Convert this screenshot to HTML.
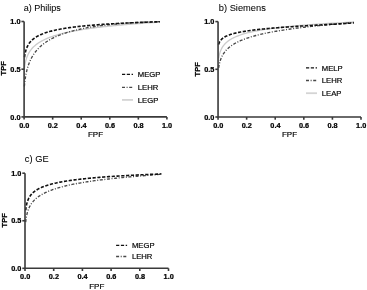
<!DOCTYPE html>
<html><head><meta charset="utf-8"><style>
html,body{margin:0;padding:0;background:#fff;}
body{width:367px;height:290px;overflow:hidden;}
svg{display:block;will-change:transform;filter:blur(0.3px);}
text{font-family:"Liberation Sans",sans-serif;fill:#000;stroke:#000;stroke-width:0.18px;}
.tk{font-size:7.3px;font-weight:bold;stroke-width:0.24px;}
.at{font-size:8px;}
.atb{font-size:7.5px;font-weight:bold;stroke-width:0.25px;}
.ti{font-size:9.6px;stroke-width:0.05px;}
.lg{font-size:7.7px;}
</style></head><body>
<svg width="367" height="290" viewBox="0 0 367 290">
<rect width="367" height="290" fill="#fff"/>
<path d="M24.50,67.80 L24.51,67.78 L24.52,67.70 L24.53,67.57 L24.56,67.37 L24.59,67.10 L24.64,66.78 L24.69,66.40 L24.75,65.96 L24.83,65.48 L24.91,64.96 L25.01,64.40 L25.11,63.82 L25.23,63.22 L25.36,62.59 L25.50,61.96 L25.65,61.31 L25.81,60.66 L25.99,60.01 L26.18,59.36 L26.38,58.71 L26.59,58.06 L26.81,57.42 L27.05,56.78 L27.30,56.16 L27.56,55.54 L27.84,54.92 L28.13,54.32 L28.43,53.72 L28.74,53.14 L29.07,52.56 L29.41,52.00 L29.77,51.44 L30.14,50.89 L30.52,50.35 L30.91,49.82 L31.32,49.30 L31.75,48.79 L32.19,48.29 L32.64,47.80 L33.10,47.31 L33.58,46.83 L34.08,46.36 L34.59,45.90 L35.11,45.45 L35.65,45.01 L36.20,44.57 L36.76,44.14 L37.35,43.72 L37.94,43.30 L38.55,42.89 L39.18,42.49 L39.82,42.09 L40.47,41.70 L41.14,41.32 L41.83,40.94 L42.53,40.57 L43.25,40.21 L43.98,39.85 L44.72,39.49 L45.48,39.15 L46.26,38.80 L47.05,38.46 L47.86,38.13 L48.69,37.80 L49.52,37.48 L50.38,37.16 L51.25,36.85 L52.14,36.54 L53.04,36.23 L53.96,35.93 L54.89,35.64 L55.84,35.35 L56.80,35.06 L57.79,34.77 L58.78,34.49 L59.80,34.22 L60.83,33.95 L61.87,33.68 L62.93,33.41 L64.01,33.15 L65.11,32.89 L66.22,32.64 L67.34,32.39 L68.49,32.14 L69.65,31.90 L70.83,31.66 L72.02,31.42 L73.23,31.18 L74.46,30.95 L75.70,30.72 L76.96,30.50 L78.23,30.27 L79.53,30.05 L80.84,29.84 L82.16,29.62 L83.51,29.41 L84.87,29.20 L86.25,28.99 L87.64,28.79 L89.05,28.59 L90.48,28.39 L91.93,28.19 L93.39,28.00 L94.87,27.81 L96.37,27.62 L97.88,27.43 L99.41,27.24 L100.96,27.06 L102.53,26.88 L104.11,26.70 L105.71,26.52 L107.33,26.35 L108.97,26.18 L110.62,26.01 L112.29,25.84 L113.98,25.67 L115.68,25.51 L117.41,25.34 L119.15,25.18 L120.91,25.02 L122.68,24.86 L124.48,24.71 L126.29,24.55 L128.12,24.40 L129.96,24.25 L131.83,24.10 L133.71,23.95 L135.61,23.80 L137.53,23.66 L139.47,23.51 L141.42,23.37 L143.39,23.23 L145.38,23.09 L147.39,22.95 L149.42,22.81 L151.46,22.67 L153.53,22.53 L155.61,22.39 L157.71,22.24 L159.82,22.10" fill="none" stroke="#cbcbcb" stroke-width="1.3"/>
<path d="M24.36,86.42 L24.36,86.39 L24.37,86.28 L24.39,86.09 L24.42,85.80 L24.45,85.42 L24.49,84.96 L24.55,84.41 L24.61,83.78 L24.68,83.09 L24.77,82.33 L24.86,81.53 L24.97,80.68 L25.09,79.80 L25.22,78.88 L25.36,77.95 L25.51,77.00 L25.67,76.03 L25.85,75.06 L26.03,74.09 L26.23,73.11 L26.45,72.13 L26.67,71.16 L26.91,70.19 L27.16,69.23 L27.42,68.28 L27.70,67.34 L27.99,66.41 L28.29,65.49 L28.60,64.58 L28.93,63.68 L29.27,62.80 L29.63,61.92 L30.00,61.06 L30.38,60.22 L30.78,59.38 L31.19,58.56 L31.61,57.76 L32.05,56.96 L32.50,56.18 L32.97,55.41 L33.45,54.65 L33.94,53.91 L34.45,53.18 L34.98,52.46 L35.51,51.75 L36.07,51.06 L36.63,50.38 L37.22,49.71 L37.81,49.05 L38.42,48.40 L39.05,47.76 L39.69,47.14 L40.35,46.52 L41.02,45.92 L41.70,45.33 L42.41,44.74 L43.12,44.17 L43.85,43.61 L44.60,43.06 L45.36,42.52 L46.14,41.98 L46.93,41.46 L47.74,40.95 L48.57,40.44 L49.41,39.95 L50.26,39.46 L51.13,38.98 L52.02,38.51 L52.92,38.05 L53.84,37.60 L54.78,37.16 L55.73,36.72 L56.69,36.30 L57.68,35.88 L58.68,35.47 L59.69,35.06 L60.72,34.67 L61.77,34.28 L62.83,33.90 L63.91,33.53 L65.01,33.16 L66.12,32.80 L67.25,32.45 L68.39,32.10 L69.55,31.76 L70.73,31.43 L71.93,31.11 L73.14,30.79 L74.36,30.47 L75.61,30.17 L76.87,29.87 L78.15,29.58 L79.44,29.29 L80.75,29.01 L82.08,28.73 L83.43,28.46 L84.79,28.20 L86.17,27.94 L87.56,27.69 L88.98,27.44 L90.41,27.20 L91.85,26.96 L93.32,26.73 L94.80,26.51 L96.30,26.29 L97.81,26.08 L99.35,25.87 L100.90,25.66 L102.47,25.46 L104.05,25.27 L105.65,25.08 L107.27,24.90 L108.91,24.72 L110.57,24.54 L112.24,24.38 L113.93,24.21 L115.64,24.05 L117.36,23.90 L119.10,23.74 L120.86,23.60 L122.64,23.46 L124.44,23.32 L126.25,23.19 L128.08,23.06 L129.93,22.94 L131.80,22.82 L133.68,22.70 L135.59,22.59 L137.51,22.49 L139.45,22.39 L141.40,22.29 L143.38,22.20 L145.37,22.11 L147.38,22.03 L149.41,21.95 L151.46,21.87 L153.52,21.81 L155.60,21.74 L157.71,21.68 L159.82,21.63" fill="none" stroke="#484848" stroke-width="1.35" stroke-dasharray="3,1.6,1,1.6"/>
<path d="M24.50,57.22 L24.51,57.20 L24.52,57.13 L24.53,57.00 L24.56,56.81 L24.59,56.56 L24.64,56.25 L24.69,55.89 L24.75,55.48 L24.83,55.03 L24.91,54.54 L25.01,54.02 L25.11,53.48 L25.23,52.92 L25.36,52.35 L25.50,51.77 L25.65,51.18 L25.81,50.60 L25.99,50.01 L26.18,49.42 L26.38,48.84 L26.59,48.27 L26.81,47.70 L27.05,47.14 L27.30,46.59 L27.56,46.05 L27.84,45.52 L28.13,45.00 L28.43,44.49 L28.74,43.99 L29.07,43.50 L29.41,43.02 L29.77,42.56 L30.14,42.10 L30.52,41.65 L30.91,41.21 L31.32,40.78 L31.75,40.36 L32.19,39.95 L32.64,39.55 L33.10,39.15 L33.58,38.77 L34.08,38.39 L34.59,38.02 L35.11,37.66 L35.65,37.31 L36.20,36.96 L36.76,36.63 L37.35,36.29 L37.94,35.97 L38.55,35.65 L39.18,35.34 L39.82,35.03 L40.47,34.74 L41.14,34.44 L41.83,34.16 L42.53,33.87 L43.25,33.60 L43.98,33.33 L44.72,33.06 L45.48,32.80 L46.26,32.55 L47.05,32.30 L47.86,32.05 L48.69,31.81 L49.52,31.57 L50.38,31.34 L51.25,31.11 L52.14,30.89 L53.04,30.67 L53.96,30.45 L54.89,30.24 L55.84,30.03 L56.80,29.83 L57.79,29.63 L58.78,29.43 L59.80,29.24 L60.83,29.05 L61.87,28.86 L62.93,28.68 L64.01,28.50 L65.11,28.32 L66.22,28.15 L67.34,27.97 L68.49,27.81 L69.65,27.64 L70.83,27.48 L72.02,27.32 L73.23,27.16 L74.46,27.01 L75.70,26.86 L76.96,26.71 L78.23,26.56 L79.53,26.41 L80.84,26.27 L82.16,26.13 L83.51,26.00 L84.87,25.86 L86.25,25.73 L87.64,25.60 L89.05,25.47 L90.48,25.34 L91.93,25.22 L93.39,25.10 L94.87,24.98 L96.37,24.86 L97.88,24.74 L99.41,24.63 L100.96,24.52 L102.53,24.41 L104.11,24.30 L105.71,24.19 L107.33,24.08 L108.97,23.98 L110.62,23.88 L112.29,23.78 L113.98,23.68 L115.68,23.59 L117.41,23.49 L119.15,23.40 L120.91,23.30 L122.68,23.21 L124.48,23.13 L126.29,23.04 L128.12,22.95 L129.96,22.87 L131.83,22.79 L133.71,22.70 L135.61,22.62 L137.53,22.54 L139.47,22.47 L141.42,22.39 L143.39,22.32 L145.38,22.24 L147.39,22.17 L149.42,22.10 L151.46,22.03 L153.53,21.96 L155.61,21.89 L157.71,21.82 L159.82,21.75" fill="none" stroke="#111" stroke-width="1.6" stroke-dasharray="3.2,1.6"/>
<path d="M24.1,21.5 L24.1,116.9 L166.9,116.9" fill="none" stroke="#3a3a3a" stroke-width="1.6"/>
<path d="M21.400000000000002,116.90 L24.1,116.90" stroke="#3a3a3a" stroke-width="1.6"/>
<text x="20.50" y="119.50" text-anchor="end" class="tk">0.0</text>
<path d="M21.400000000000002,69.20 L24.1,69.20" stroke="#3a3a3a" stroke-width="1.6"/>
<text x="20.50" y="71.80" text-anchor="end" class="tk">0.5</text>
<path d="M21.400000000000002,21.50 L24.1,21.50" stroke="#3a3a3a" stroke-width="1.6"/>
<text x="20.50" y="24.10" text-anchor="end" class="tk">1.0</text>
<path d="M24.10,116.9 L24.10,119.60000000000001" stroke="#3a3a3a" stroke-width="1.6"/>
<text x="24.30" y="128.00" text-anchor="middle" class="tk">0.0</text>
<path d="M52.66,116.9 L52.66,119.60000000000001" stroke="#3a3a3a" stroke-width="1.6"/>
<text x="52.86" y="128.00" text-anchor="middle" class="tk">0.2</text>
<path d="M81.22,116.9 L81.22,119.60000000000001" stroke="#3a3a3a" stroke-width="1.6"/>
<text x="81.42" y="128.00" text-anchor="middle" class="tk">0.4</text>
<path d="M109.78,116.9 L109.78,119.60000000000001" stroke="#3a3a3a" stroke-width="1.6"/>
<text x="109.98" y="128.00" text-anchor="middle" class="tk">0.6</text>
<path d="M138.34,116.9 L138.34,119.60000000000001" stroke="#3a3a3a" stroke-width="1.6"/>
<text x="138.54" y="128.00" text-anchor="middle" class="tk">0.8</text>
<path d="M166.90,116.9 L166.90,119.60000000000001" stroke="#3a3a3a" stroke-width="1.6"/>
<text x="167.10" y="128.00" text-anchor="middle" class="tk">1.0</text>
<text x="95.50" y="137.10" text-anchor="middle" class="at">FPF</text>
<text transform="translate(6.0,68.30) rotate(-90)" text-anchor="middle" class="atb">TPF</text>
<text x="23.7" y="10.7" class="ti" textLength="37.2" lengthAdjust="spacingAndGlyphs">a) Philips</text>
<path d="M122,74.4 L133,74.4" stroke="#111" stroke-width="1.4" stroke-dasharray="3.2,1.6"/>
<text x="137.8" y="77.10" class="lg">MEGP</text>
<path d="M122,87.3 L133,87.3" stroke="#484848" stroke-width="1.35" stroke-dasharray="3,1.6,1,1.6"/>
<text x="137.8" y="90.00" class="lg">LEHR</text>
<path d="M122,99.9 L133,99.9" stroke="#d4d4d4" stroke-width="1.8"/>
<text x="137.8" y="102.60" class="lg">LEGP</text>
<path d="M218.65,58.37 L218.65,58.35 L218.66,58.29 L218.68,58.18 L218.70,58.02 L218.74,57.82 L218.78,57.56 L218.83,57.25 L218.90,56.90 L218.97,56.52 L219.05,56.10 L219.15,55.65 L219.26,55.18 L219.37,54.69 L219.50,54.18 L219.64,53.66 L219.79,53.14 L219.96,52.61 L220.13,52.08 L220.32,51.54 L220.52,51.01 L220.73,50.48 L220.95,49.96 L221.19,49.44 L221.44,48.92 L221.70,48.42 L221.98,47.92 L222.27,47.42 L222.57,46.94 L222.88,46.46 L223.21,45.99 L223.55,45.53 L223.91,45.08 L224.27,44.64 L224.66,44.20 L225.05,43.77 L225.46,43.35 L225.88,42.94 L226.32,42.53 L226.77,42.14 L227.24,41.75 L227.72,41.36 L228.21,40.99 L228.72,40.62 L229.24,40.26 L229.78,39.90 L230.33,39.55 L230.90,39.21 L231.48,38.87 L232.07,38.54 L232.68,38.22 L233.31,37.90 L233.95,37.58 L234.60,37.27 L235.27,36.97 L235.95,36.67 L236.65,36.38 L237.37,36.09 L238.10,35.81 L238.85,35.53 L239.61,35.26 L240.38,34.99 L241.17,34.72 L241.98,34.46 L242.80,34.20 L243.64,33.95 L244.50,33.70 L245.36,33.46 L246.25,33.21 L247.15,32.98 L248.07,32.74 L249.00,32.51 L249.95,32.29 L250.91,32.06 L251.89,31.84 L252.89,31.62 L253.90,31.41 L254.93,31.20 L255.98,30.99 L257.04,30.79 L258.11,30.58 L259.21,30.38 L260.32,30.19 L261.44,29.99 L262.59,29.80 L263.74,29.61 L264.92,29.43 L266.11,29.24 L267.32,29.06 L268.55,28.88 L269.79,28.71 L271.05,28.53 L272.32,28.36 L273.61,28.19 L274.92,28.03 L276.25,27.86 L277.59,27.70 L278.95,27.54 L280.32,27.38 L281.72,27.22 L283.13,27.07 L284.55,26.91 L286.00,26.76 L287.46,26.61 L288.94,26.46 L290.43,26.32 L291.95,26.17 L293.48,26.03 L295.02,25.89 L296.59,25.75 L298.17,25.61 L299.77,25.48 L301.39,25.34 L303.02,25.21 L304.67,25.08 L306.34,24.95 L308.03,24.82 L309.73,24.69 L311.45,24.57 L313.19,24.44 L314.95,24.32 L316.72,24.20 L318.51,24.08 L320.32,23.96 L322.15,23.84 L324.00,23.72 L325.86,23.61 L327.74,23.49 L329.64,23.38 L331.55,23.26 L333.49,23.15 L335.44,23.04 L337.41,22.93 L339.40,22.81 L341.41,22.70 L343.43,22.59 L345.47,22.48 L347.53,22.37 L349.61,22.26 L351.71,22.14 L353.82,22.02" fill="none" stroke="#cbcbcb" stroke-width="1.3"/>
<path d="M218.65,67.87 L218.65,67.86 L218.66,67.79 L218.68,67.68 L218.70,67.51 L218.74,67.29 L218.78,67.01 L218.83,66.68 L218.90,66.31 L218.97,65.89 L219.05,65.44 L219.15,64.96 L219.26,64.45 L219.37,63.91 L219.50,63.36 L219.64,62.79 L219.79,62.21 L219.96,61.63 L220.13,61.04 L220.32,60.44 L220.52,59.85 L220.73,59.26 L220.95,58.67 L221.19,58.08 L221.44,57.50 L221.70,56.92 L221.98,56.35 L222.27,55.78 L222.57,55.22 L222.88,54.67 L223.21,54.13 L223.55,53.59 L223.91,53.06 L224.27,52.54 L224.66,52.03 L225.05,51.52 L225.46,51.03 L225.88,50.53 L226.32,50.05 L226.77,49.58 L227.24,49.11 L227.72,48.65 L228.21,48.19 L228.72,47.74 L229.24,47.30 L229.78,46.87 L230.33,46.44 L230.90,46.02 L231.48,45.61 L232.07,45.20 L232.68,44.80 L233.31,44.40 L233.95,44.01 L234.60,43.62 L235.27,43.24 L235.95,42.87 L236.65,42.50 L237.37,42.13 L238.10,41.78 L238.85,41.42 L239.61,41.07 L240.38,40.73 L241.17,40.39 L241.98,40.05 L242.80,39.72 L243.64,39.39 L244.50,39.07 L245.36,38.75 L246.25,38.44 L247.15,38.13 L248.07,37.82 L249.00,37.52 L249.95,37.22 L250.91,36.92 L251.89,36.63 L252.89,36.34 L253.90,36.06 L254.93,35.77 L255.98,35.50 L257.04,35.22 L258.11,34.95 L259.21,34.68 L260.32,34.41 L261.44,34.15 L262.59,33.89 L263.74,33.63 L264.92,33.38 L266.11,33.13 L267.32,32.88 L268.55,32.63 L269.79,32.39 L271.05,32.15 L272.32,31.91 L273.61,31.67 L274.92,31.44 L276.25,31.21 L277.59,30.98 L278.95,30.75 L280.32,30.53 L281.72,30.31 L283.13,30.09 L284.55,29.87 L286.00,29.65 L287.46,29.44 L288.94,29.23 L290.43,29.02 L291.95,28.81 L293.48,28.60 L295.02,28.40 L296.59,28.20 L298.17,28.00 L299.77,27.80 L301.39,27.60 L303.02,27.40 L304.67,27.21 L306.34,27.02 L308.03,26.82 L309.73,26.63 L311.45,26.45 L313.19,26.26 L314.95,26.07 L316.72,25.89 L318.51,25.70 L320.32,25.52 L322.15,25.34 L324.00,25.16 L325.86,24.98 L327.74,24.80 L329.64,24.62 L331.55,24.44 L333.49,24.27 L335.44,24.09 L337.41,23.91 L339.40,23.73 L341.41,23.55 L343.43,23.38 L345.47,23.19 L347.53,23.01 L349.61,22.82 L351.71,22.63 L353.82,22.43" fill="none" stroke="#484848" stroke-width="1.35" stroke-dasharray="3,1.6,1,1.6"/>
<path d="M218.65,44.42 L218.65,44.41 L218.66,44.38 L218.68,44.32 L218.70,44.24 L218.74,44.12 L218.78,43.99 L218.83,43.82 L218.90,43.64 L218.97,43.43 L219.05,43.21 L219.15,42.97 L219.26,42.73 L219.37,42.47 L219.50,42.20 L219.64,41.93 L219.79,41.65 L219.96,41.37 L220.13,41.10 L220.32,40.82 L220.52,40.54 L220.73,40.26 L220.95,39.99 L221.19,39.72 L221.44,39.45 L221.70,39.19 L221.98,38.93 L222.27,38.67 L222.57,38.42 L222.88,38.17 L223.21,37.92 L223.55,37.68 L223.91,37.45 L224.27,37.22 L224.66,36.99 L225.05,36.77 L225.46,36.55 L225.88,36.33 L226.32,36.12 L226.77,35.91 L227.24,35.70 L227.72,35.50 L228.21,35.30 L228.72,35.11 L229.24,34.92 L229.78,34.73 L230.33,34.54 L230.90,34.36 L231.48,34.18 L232.07,34.00 L232.68,33.83 L233.31,33.65 L233.95,33.49 L234.60,33.32 L235.27,33.15 L235.95,32.99 L236.65,32.83 L237.37,32.67 L238.10,32.52 L238.85,32.37 L239.61,32.21 L240.38,32.06 L241.17,31.92 L241.98,31.77 L242.80,31.63 L243.64,31.49 L244.50,31.34 L245.36,31.21 L246.25,31.07 L247.15,30.93 L248.07,30.80 L249.00,30.67 L249.95,30.54 L250.91,30.41 L251.89,30.28 L252.89,30.15 L253.90,30.02 L254.93,29.90 L255.98,29.78 L257.04,29.65 L258.11,29.53 L259.21,29.41 L260.32,29.29 L261.44,29.18 L262.59,29.06 L263.74,28.94 L264.92,28.83 L266.11,28.71 L267.32,28.60 L268.55,28.49 L269.79,28.38 L271.05,28.26 L272.32,28.15 L273.61,28.05 L274.92,27.94 L276.25,27.83 L277.59,27.72 L278.95,27.62 L280.32,27.51 L281.72,27.40 L283.13,27.30 L284.55,27.19 L286.00,27.09 L287.46,26.99 L288.94,26.88 L290.43,26.78 L291.95,26.68 L293.48,26.58 L295.02,26.47 L296.59,26.37 L298.17,26.27 L299.77,26.17 L301.39,26.07 L303.02,25.97 L304.67,25.87 L306.34,25.77 L308.03,25.66 L309.73,25.56 L311.45,25.46 L313.19,25.36 L314.95,25.26 L316.72,25.16 L318.51,25.05 L320.32,24.95 L322.15,24.85 L324.00,24.74 L325.86,24.63 L327.74,24.53 L329.64,24.42 L331.55,24.31 L333.49,24.20 L335.44,24.09 L337.41,23.97 L339.40,23.85 L341.41,23.73 L343.43,23.60 L345.47,23.47 L347.53,23.34 L349.61,23.19 L351.71,23.03 L353.82,22.86" fill="none" stroke="#111" stroke-width="1.6" stroke-dasharray="3.2,1.6"/>
<path d="M218.05,21.6 L218.05,117.0 L361.0,117.0" fill="none" stroke="#3a3a3a" stroke-width="1.6"/>
<path d="M215.35000000000002,117.00 L218.05,117.00" stroke="#3a3a3a" stroke-width="1.6"/>
<text x="214.45" y="119.60" text-anchor="end" class="tk">0.0</text>
<path d="M215.35000000000002,69.30 L218.05,69.30" stroke="#3a3a3a" stroke-width="1.6"/>
<text x="214.45" y="71.90" text-anchor="end" class="tk">0.5</text>
<path d="M215.35000000000002,21.60 L218.05,21.60" stroke="#3a3a3a" stroke-width="1.6"/>
<text x="214.45" y="24.20" text-anchor="end" class="tk">1.0</text>
<path d="M218.05,117.0 L218.05,119.7" stroke="#3a3a3a" stroke-width="1.6"/>
<text x="218.25" y="128.10" text-anchor="middle" class="tk">0.0</text>
<path d="M246.64,117.0 L246.64,119.7" stroke="#3a3a3a" stroke-width="1.6"/>
<text x="246.84" y="128.10" text-anchor="middle" class="tk">0.2</text>
<path d="M275.23,117.0 L275.23,119.7" stroke="#3a3a3a" stroke-width="1.6"/>
<text x="275.43" y="128.10" text-anchor="middle" class="tk">0.4</text>
<path d="M303.82,117.0 L303.82,119.7" stroke="#3a3a3a" stroke-width="1.6"/>
<text x="304.02" y="128.10" text-anchor="middle" class="tk">0.6</text>
<path d="M332.41,117.0 L332.41,119.7" stroke="#3a3a3a" stroke-width="1.6"/>
<text x="332.61" y="128.10" text-anchor="middle" class="tk">0.8</text>
<path d="M361.00,117.0 L361.00,119.7" stroke="#3a3a3a" stroke-width="1.6"/>
<text x="361.20" y="128.10" text-anchor="middle" class="tk">1.0</text>
<text x="289.52" y="137.20" text-anchor="middle" class="at">FPF</text>
<text transform="translate(200.0,69.35) rotate(-90)" text-anchor="middle" class="atb">TPF</text>
<text x="218.8" y="10.6" class="ti" textLength="47.0" lengthAdjust="spacingAndGlyphs">b) Siemens</text>
<path d="M306,67.9 L317,67.9" stroke="#111" stroke-width="1.4" stroke-dasharray="3.2,1.6"/>
<text x="321.8" y="70.60" class="lg">MELP</text>
<path d="M306,80.5 L317,80.5" stroke="#484848" stroke-width="1.35" stroke-dasharray="3,1.6,1,1.6"/>
<text x="321.8" y="83.20" class="lg">LEHR</text>
<path d="M306,93.2 L317,93.2" stroke="#d4d4d4" stroke-width="1.8"/>
<text x="321.8" y="95.90" class="lg">LEAP</text>
<path d="M25.72,222.11 L25.72,222.08 L25.73,221.98 L25.75,221.81 L25.77,221.55 L25.81,221.22 L25.85,220.82 L25.90,220.34 L25.97,219.82 L26.04,219.24 L26.13,218.63 L26.22,217.98 L26.33,217.31 L26.45,216.62 L26.57,215.93 L26.71,215.22 L26.87,214.52 L27.03,213.81 L27.21,213.11 L27.39,212.41 L27.59,211.72 L27.81,211.04 L28.03,210.37 L28.27,209.71 L28.52,209.06 L28.78,208.42 L29.06,207.79 L29.35,207.18 L29.65,206.57 L29.97,205.98 L30.30,205.39 L30.64,204.82 L31.00,204.26 L31.37,203.70 L31.75,203.16 L32.15,202.63 L32.56,202.11 L32.98,201.60 L33.42,201.10 L33.87,200.60 L34.34,200.12 L34.82,199.64 L35.32,199.18 L35.83,198.72 L36.35,198.27 L36.89,197.83 L37.44,197.39 L38.01,196.96 L38.60,196.54 L39.19,196.13 L39.81,195.72 L40.43,195.32 L41.08,194.93 L41.73,194.54 L42.40,194.16 L43.09,193.78 L43.79,193.41 L44.51,193.05 L45.25,192.69 L45.99,192.34 L46.76,191.99 L47.54,191.65 L48.33,191.31 L49.14,190.98 L49.97,190.65 L50.81,190.33 L51.67,190.01 L52.54,189.69 L53.43,189.38 L54.33,189.08 L55.25,188.78 L56.19,188.48 L57.14,188.19 L58.11,187.90 L59.09,187.61 L60.09,187.33 L61.11,187.05 L62.14,186.78 L63.19,186.51 L64.26,186.24 L65.34,185.98 L66.43,185.71 L67.55,185.46 L68.68,185.20 L69.83,184.95 L70.99,184.70 L72.17,184.46 L73.37,184.21 L74.58,183.98 L75.81,183.74 L77.06,183.50 L78.32,183.27 L79.60,183.04 L80.90,182.82 L82.21,182.60 L83.54,182.37 L84.89,182.16 L86.25,181.94 L87.63,181.73 L89.03,181.52 L90.45,181.31 L91.88,181.10 L93.33,180.90 L94.80,180.69 L96.28,180.49 L97.78,180.29 L99.30,180.10 L100.84,179.90 L102.39,179.71 L103.96,179.52 L105.55,179.33 L107.15,179.15 L108.78,178.96 L110.42,178.78 L112.07,178.60 L113.75,178.42 L115.44,178.24 L117.15,178.07 L118.88,177.89 L120.63,177.72 L122.39,177.55 L124.17,177.38 L125.97,177.21 L127.79,177.04 L129.62,176.87 L131.47,176.71 L133.34,176.54 L135.23,176.38 L137.14,176.22 L139.06,176.06 L141.00,175.90 L142.96,175.74 L144.94,175.58 L146.94,175.42 L148.95,175.26 L150.99,175.10 L153.04,174.94 L155.10,174.77 L157.19,174.61 L159.30,174.44 L161.42,174.27" fill="none" stroke="#484848" stroke-width="1.35" stroke-dasharray="3,1.6,1,1.6"/>
<path d="M25.72,210.23 L25.72,210.21 L25.73,210.12 L25.75,209.96 L25.77,209.72 L25.81,209.42 L25.85,209.04 L25.90,208.61 L25.97,208.13 L26.04,207.61 L26.13,207.06 L26.22,206.47 L26.33,205.88 L26.45,205.27 L26.57,204.65 L26.71,204.03 L26.87,203.42 L27.03,202.80 L27.21,202.20 L27.39,201.60 L27.59,201.01 L27.81,200.43 L28.03,199.86 L28.27,199.31 L28.52,198.76 L28.78,198.23 L29.06,197.71 L29.35,197.20 L29.65,196.70 L29.97,196.22 L30.30,195.74 L30.64,195.28 L31.00,194.83 L31.37,194.38 L31.75,193.95 L32.15,193.53 L32.56,193.12 L32.98,192.71 L33.42,192.32 L33.87,191.94 L34.34,191.56 L34.82,191.19 L35.32,190.83 L35.83,190.48 L36.35,190.13 L36.89,189.79 L37.44,189.46 L38.01,189.14 L38.60,188.82 L39.19,188.51 L39.81,188.20 L40.43,187.90 L41.08,187.61 L41.73,187.32 L42.40,187.04 L43.09,186.76 L43.79,186.49 L44.51,186.23 L45.25,185.96 L45.99,185.71 L46.76,185.45 L47.54,185.21 L48.33,184.96 L49.14,184.73 L49.97,184.49 L50.81,184.26 L51.67,184.03 L52.54,183.81 L53.43,183.59 L54.33,183.38 L55.25,183.16 L56.19,182.96 L57.14,182.75 L58.11,182.55 L59.09,182.35 L60.09,182.16 L61.11,181.97 L62.14,181.78 L63.19,181.59 L64.26,181.41 L65.34,181.23 L66.43,181.05 L67.55,180.87 L68.68,180.70 L69.83,180.53 L70.99,180.37 L72.17,180.20 L73.37,180.04 L74.58,179.88 L75.81,179.72 L77.06,179.57 L78.32,179.42 L79.60,179.26 L80.90,179.12 L82.21,178.97 L83.54,178.83 L84.89,178.68 L86.25,178.54 L87.63,178.41 L89.03,178.27 L90.45,178.13 L91.88,178.00 L93.33,177.87 L94.80,177.74 L96.28,177.61 L97.78,177.49 L99.30,177.37 L100.84,177.24 L102.39,177.12 L103.96,177.00 L105.55,176.89 L107.15,176.77 L108.78,176.66 L110.42,176.54 L112.07,176.43 L113.75,176.32 L115.44,176.21 L117.15,176.10 L118.88,176.00 L120.63,175.89 L122.39,175.79 L124.17,175.69 L125.97,175.59 L127.79,175.49 L129.62,175.39 L131.47,175.29 L133.34,175.19 L135.23,175.10 L137.14,175.00 L139.06,174.91 L141.00,174.81 L142.96,174.72 L144.94,174.63 L146.94,174.54 L148.95,174.45 L150.99,174.36 L153.04,174.27 L155.10,174.18 L157.19,174.09 L159.30,174.00 L161.42,173.90" fill="none" stroke="#111" stroke-width="1.6" stroke-dasharray="3.2,1.6"/>
<path d="M25.0,173.2 L25.0,268.3 L168.5,268.3" fill="none" stroke="#3a3a3a" stroke-width="1.6"/>
<path d="M22.3,268.30 L25.0,268.30" stroke="#3a3a3a" stroke-width="1.6"/>
<text x="21.40" y="270.90" text-anchor="end" class="tk">0.0</text>
<path d="M22.3,220.75 L25.0,220.75" stroke="#3a3a3a" stroke-width="1.6"/>
<text x="21.40" y="223.35" text-anchor="end" class="tk">0.5</text>
<path d="M22.3,173.20 L25.0,173.20" stroke="#3a3a3a" stroke-width="1.6"/>
<text x="21.40" y="175.80" text-anchor="end" class="tk">1.0</text>
<path d="M25.00,268.3 L25.00,271.0" stroke="#3a3a3a" stroke-width="1.6"/>
<text x="25.20" y="279.40" text-anchor="middle" class="tk">0.0</text>
<path d="M53.70,268.3 L53.70,271.0" stroke="#3a3a3a" stroke-width="1.6"/>
<text x="53.90" y="279.40" text-anchor="middle" class="tk">0.2</text>
<path d="M82.40,268.3 L82.40,271.0" stroke="#3a3a3a" stroke-width="1.6"/>
<text x="82.60" y="279.40" text-anchor="middle" class="tk">0.4</text>
<path d="M111.10,268.3 L111.10,271.0" stroke="#3a3a3a" stroke-width="1.6"/>
<text x="111.30" y="279.40" text-anchor="middle" class="tk">0.6</text>
<path d="M139.80,268.3 L139.80,271.0" stroke="#3a3a3a" stroke-width="1.6"/>
<text x="140.00" y="279.40" text-anchor="middle" class="tk">0.8</text>
<path d="M168.50,268.3 L168.50,271.0" stroke="#3a3a3a" stroke-width="1.6"/>
<text x="168.70" y="279.40" text-anchor="middle" class="tk">1.0</text>
<text x="96.75" y="288.50" text-anchor="middle" class="at">FPF</text>
<text transform="translate(6.9,220.30) rotate(-90)" text-anchor="middle" class="atb">TPF</text>
<text x="24.8" y="162.3" class="ti" textLength="23.8" lengthAdjust="spacingAndGlyphs">c) GE</text>
<path d="M116.1,245.4 L127.1,245.4" stroke="#111" stroke-width="1.4" stroke-dasharray="3.2,1.6"/>
<text x="131.9" y="248.10" class="lg">MEGP</text>
<path d="M116.1,256.5 L127.1,256.5" stroke="#484848" stroke-width="1.35" stroke-dasharray="3,1.6,1,1.6"/>
<text x="131.9" y="259.20" class="lg">LEHR</text>
</svg>
</body></html>
